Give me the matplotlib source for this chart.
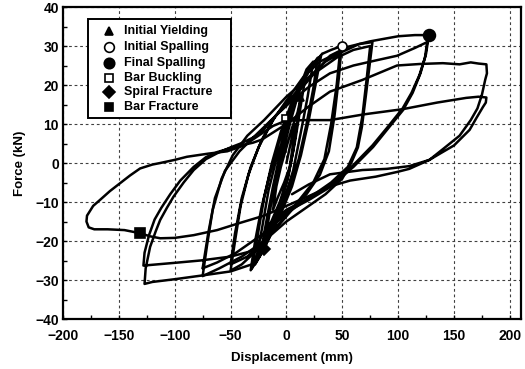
import matplotlib.pyplot as plt
from matplotlib.patches import Rectangle

plt.rcParams['font.family'] = ['Liberation Sans', 'DejaVu Sans']
plt.rcParams['font.weight'] = 'bold'

# cyclic test record (displacement in mm, force in kN), one array pair per amplitude stage
small_disp = [0, 3, 6, 8, 6, 3, -2, -8, -12, -9, -5, 0, 5, 10, 13, 10, 6, 1, -6, -12, -18,
              -14, -9, -3, 4, 11, 17, 13, 8, 2, -6, -14, -23, -18, -12, -6, 2, 10, 18, 24,
              19, 13, 6, -3, -12, -20, -28, -22, -16, -9, 0, 9, 18, 28, 24, 18, 11, 3, -6,
              -16, -24, -31, -26, -20, -13, -5, 4, 14, 24, 31,
              26, 20, 13, 5, -5, -15, -24, -32, -28, -22, -15, -7, 3, 13, 23, 32]
small_force = [0, 4, 8, 10, 5, -1, -5, -9, -12, -6, -1, 4, 9, 13, 17, 11, 3, -4, -10, -14, -18,
               -11, -4, 3, 11, 18, 22, 15, 6, -3, -11, -17, -23, -15, -6, 2, 10, 18, 24, 26,
               17, 8, -2, -10, -17, -22, -26, -17, -7, 1, 9, 17, 23, 27, 19, 10, 1, -6, -12,
               -18, -23, -27, -19, -9, 0, 8, 15, 21, 25, 27.5,
               20, 11, 2, -6, -13, -19, -24, -27.5, -20, -11, -3, 5, 13, 20, 25, 28]

d50 = [32, 40, 49.4, 47, 43, 38, 30, 18, 5, -10, -25, -40, -50, -46, -41, -34, -25, -12, 0,
       15, 30, 48, 45, 40, 34, 24, 10, -5, -20, -35, -50, -46, -40, -32, -22, -10, 5]
f50 = [28, 29, 30, 22, 12, 3, -3, -8, -12, -17, -22, -26, -27.6, -20, -11, -3, 4, 11, 16,
       22, 26, 28.5, 20, 10, 1, -5, -10, -15, -20, -24, -26, -18, -9, -1, 6, 12, 17]

d75 = [5, 20, 35, 50, 65, 77, 74, 71, 67.6, 64, 58, 50, 35, 15, 0, -20, -40, -60, -75, -71,
       -66, -58, -48, -35, -20, 0, 20, 45, 60, 75, 72, 68, 63, 55, 40, 20, 0, -20, -45, -62, -75]
f75 = [17, 22, 26, 28.5, 30.5, 31, 24, 17, 9.3, 4, 0, -4, -8, -12, -15, -20, -24, -27, -29, -21,
       -12, -4, 2, 7, 11, 17, 22, 27, 29, 30, 22, 12, 4, -1, -5, -9, -13, -18, -23, -25.5, -27]

d125 = [-75, -70, -64, -55, -42, -28, -10, 10, 25, 39, 55, 75, 100, 115, 127.5,
        125, 120, 113, 104.5, 90, 77.6, 60, 39, 20, 0, -15, -30, -50, -77, -100, -120, -127,
        -126, -122, -117, -113, -107, -101, -92, -83, -72, -62, -50, -41, -30, -22,
        -10, 5, 20, 39, 60, 80, 99, 115, 126,
        124, 119, 112, 104, 90, 77, 60, 39, 20, 0, -15, -30, -50, -77, -100, -120, -128,
        -127, -123, -118, -112, -104, -95, -83, -72, -62, -50, -41, -30, -22]
f125 = [-27, -18, -9, -2, 3, 7, 12, 18, 23, 27.5, 29.8, 31.2, 32.5, 32.8, 32.8,
        28, 23, 18, 13.6, 8.5, 4.1, -1, -6.2, -9.5, -12.5, -16, -25.9, -27.8, -28.9, -29.8, -30.5, -31,
        -27, -21.5, -17.5, -14.6, -11.5, -8.6, -5, -1.8, 1, 2.5, 4, 5, 6.5, 8,
        12, 16, 19.5, 23, 25, 26.3, 27.5, 29.5, 31,
        27, 22.5, 18, 14, 9, 4.5, -0.5, -5.8, -9, -12, -15.5, -22.5, -24, -25, -25.6, -26.1, -26.3,
        -23, -18.5, -14.5, -11.5, -8, -4.5, -1, 1.5, 2.8, 3.8, 4.5, 5.2, 6]

d175 = [-22, 0, 20, 39, 68, 99, 120, 140, 155, 165, 172, 179, 179.5, 178, 175, 171, 165, 155,
        142, 128, 110, 99, 80, 57, 39, 20, 0, -20, -42, -62, -83, -100, -113, -122, -131, -145,
        -160, -172, -177, -179, -178.5, -173, -167, -158, -149, -140, -131, -120, -113, -100,
        -89, -70, -53, -38, -24, -12, -1, 15, 39, 70, 104, 135, 161, 172, 179, 178.5, 176, 170,
        164, 150, 138, 128, 110, 90, 68, 39, 20, 5]
f175 = [6, 10, 14.5, 18.3, 21.3, 25, 25.4, 25.6, 25.3, 25.8, 25.5, 25.3, 23, 21.4, 17.5, 14, 11, 7,
        4, 0.8, -1.5, -2.3, -3.5, -4.5, -6, -8.5, -11, -13.5, -15.4, -17.2, -18.5, -19.2, -19.3, -18.8, -18, -17.2,
        -17, -17, -16.5, -15, -13.5, -11, -9.5, -7.2, -5.2, -3.2, -1.4, -0.4, 0, 0.8,
        1.6, 2.4, 3, 4.5, 7.2, 9.5, 10.8, 11, 11, 12.5, 13.8, 15.5, 16.7, 17, 16.8, 15.5, 14.4, 11.5,
        8.5, 4.5, 2.5, 0.8, -0.8, -1.5, -1.8, -2.9, -5.5, -8]

# damage events
events = ['Initial Yielding', 'Initial Spalling', 'Final Spalling',
          'Bar Buckling', 'Spiral Fracture', 'Bar Fracture']
event_disp = [12, 49.4, 127.5, -1.3, -20, -131]
event_force = [17, 30, 32.8, 11.5, -22, -18]
event_marker = ['^', 'o', 'o', 's', 'D', 's']
event_filled = [True, False, True, False, True, True]
event_size = [6, 6.5, 8.5, 5, 6, 7]
key_size = [6, 7, 7.5, 6, 6.5, 5.5]

fig = plt.figure(figsize=(5.25, 3.69), dpi=100)
ax = fig.add_axes([0.12, 0.1355, 0.8724, 0.8455])

for d, f in [(small_disp, small_force), (d50, f50), (d75, f75), (d125, f125), (d175, f175)]:
    ax.plot(d, f, color='black', lw=1.8, solid_joinstyle='round', solid_capstyle='round', zorder=3)

for x, y, m, filled, s in zip(event_disp, event_force, event_marker, event_filled, event_size):
    fc = 'black' if filled else 'white'
    ax.plot([x], [y], marker=m, ms=s, mfc=fc, mec='black', mew=1.2, ls='none', zorder=4)

# key box drawn by hand so the padding matches
ax.add_patch(Rectangle((0.0546, 0.644), 0.3122, 0.3175, transform=ax.transAxes,
                       facecolor='white', edgecolor='black', lw=1.4, zorder=5))
row_y = [0.923, 0.872, 0.8205, 0.772, 0.726, 0.679]
for name, ry, m, filled, s in zip(events, row_y, event_marker, event_filled, key_size):
    fc = 'black' if filled else 'white'
    ax.plot([0.1005], [ry], marker=m, ms=s, mfc=fc, mec='black', mew=1.2, ls='none',
            transform=ax.transAxes, zorder=6)
    ax.text(0.133, ry, name, transform=ax.transAxes, fontsize=9, fontweight='bold',
            va='center', ha='left', zorder=6)

ax.set_xlim(-200, 210)
ax.set_ylim(-40, 40)
ax.set_xticks(range(-200, 201, 50))
ax.set_yticks(range(-40, 41, 10))
ax.set_xticks(range(-175, 201, 50), minor=True)
ax.set_yticks(range(-35, 40, 10), minor=True)
ax.tick_params(which='both', direction='in', length=3, width=1, labelsize=10)
ax.tick_params(axis='x', pad=7)
ax.tick_params(axis='y', pad=3)
ax.grid(True, which='major', color='0.25', lw=0.8, ls=(0, (2.5, 2.5)))
for sp in ax.spines.values():
    sp.set_linewidth(1.6)

ax.set_xlabel('Displacement (mm)', fontsize=9.5, fontweight='bold', va='center')
ax.set_ylabel('Force (kN)', fontsize=9.5, fontweight='bold', va='center')
ax.xaxis.set_label_coords(0.5, -0.125)
ax.yaxis.set_label_coords(-0.094, 0.5)

fig.savefig('out.png', dpi=100)
